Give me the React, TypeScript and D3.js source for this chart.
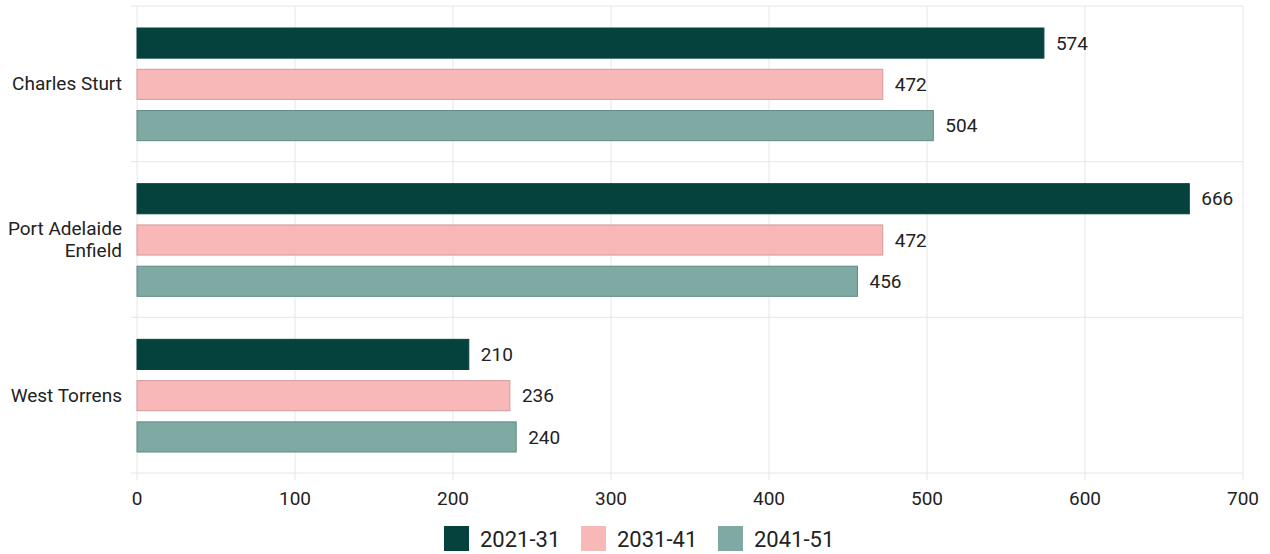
import React from "react";
import * as d3 from "d3";

const categories = ["Charles Sturt", "Port Adelaide Enfield", "West Torrens"];
const categoryLines = [["Charles Sturt"], ["Port Adelaide", "Enfield"], ["West Torrens"]];
const seriesNames = ["2021-31", "2031-41", "2041-51"];
const values2021 = [574, 666, 210];
const values2031 = [472, 472, 236];
const values2041 = [504, 456, 240];
const xTicks = [0, 100, 200, 300, 400, 500, 600, 700];
const fills = ["#06423d", "#f8b8b8", "#7faaa4"];
const strokes = ["#06423d", "#d49a9b", "#5e8a84"];

export default function App() {
  const W = 1270, H = 554;
  const left = 137, right = 1243, top = 6, bottom = 473;
  const x = d3.scaleLinear().domain([0, 700]).range([left, right]);
  const y = d3.scaleBand().domain(categories).range([top, bottom]).paddingInner(0).paddingOuter(0);
  const inner = d3.scaleBand().domain(seriesNames).range([22, y.bandwidth() - 21]).paddingInner(0.27).paddingOuter(0);
  const series = [values2021, values2031, values2041];
  const font = "Roboto, 'Noto Sans', sans-serif";
  const legendX = [444, 581, 718];
  return (
    <svg width={W} height={H} style={{ position: "absolute", left: 0, top: 0, fontFamily: font }}>
      <rect width={W} height={H} fill="#fff" />
      {xTicks.map((t) => (
        <line key={"v" + t} x1={x(t)} x2={x(t)} y1={top} y2={bottom + 7} stroke="#e6e6e6" strokeWidth={1} />
      ))}
      {[top, ...categories.slice(1).map((c) => y(c)!), bottom].map((yy, i) => (
        <line key={"h" + i} x1={left - 6} x2={right} y1={yy} y2={yy} stroke="#e6e6e6" strokeWidth={1} />
      ))}
      {categories.map((c, ci) =>
        series.map((vals, si) => {
          const by = y(c)! + inner(seriesNames[si])!;
          const bh = inner.bandwidth();
          return (
            <g key={c + si}>
              <rect x={x(0)} y={by} width={x(vals[ci]) - x(0)} height={bh} fill={fills[si]} stroke={strokes[si]} strokeWidth={1} />
              <text x={x(vals[ci]) + 12} y={by + bh / 2} dy="0.35em" fontSize={19} fill="#222">{vals[ci]}</text>
            </g>
          );
        })
      )}
      {categories.map((c, ci) => {
        const lines = categoryLines[ci];
        const cy = y(c)! + y.bandwidth() / 2;
        return (
          <text key={c} x={122} y={cy} textAnchor="end" fontSize={19} fill="#222">
            {lines.map((l, li) => (
              <tspan key={li} x={122} y={cy + (li - (lines.length - 1) / 2) * 22} dy="0.35em">{l}</tspan>
            ))}
          </text>
        );
      })}
      {xTicks.map((t) => (
        <text key={"t" + t} x={x(t)} y={498} textAnchor="middle" dy="0.35em" fontSize={19} fill="#222">{t}</text>
      ))}
      {seriesNames.map((s, i) => (
        <g key={s}>
          <rect x={legendX[i]} y={526} width={25} height={25} fill={fills[i]} />
          <text x={legendX[i] + 36} y={539} dy="0.35em" fontSize={22} fill="#222">{s}</text>
        </g>
      ))}
    </svg>
  );
}
